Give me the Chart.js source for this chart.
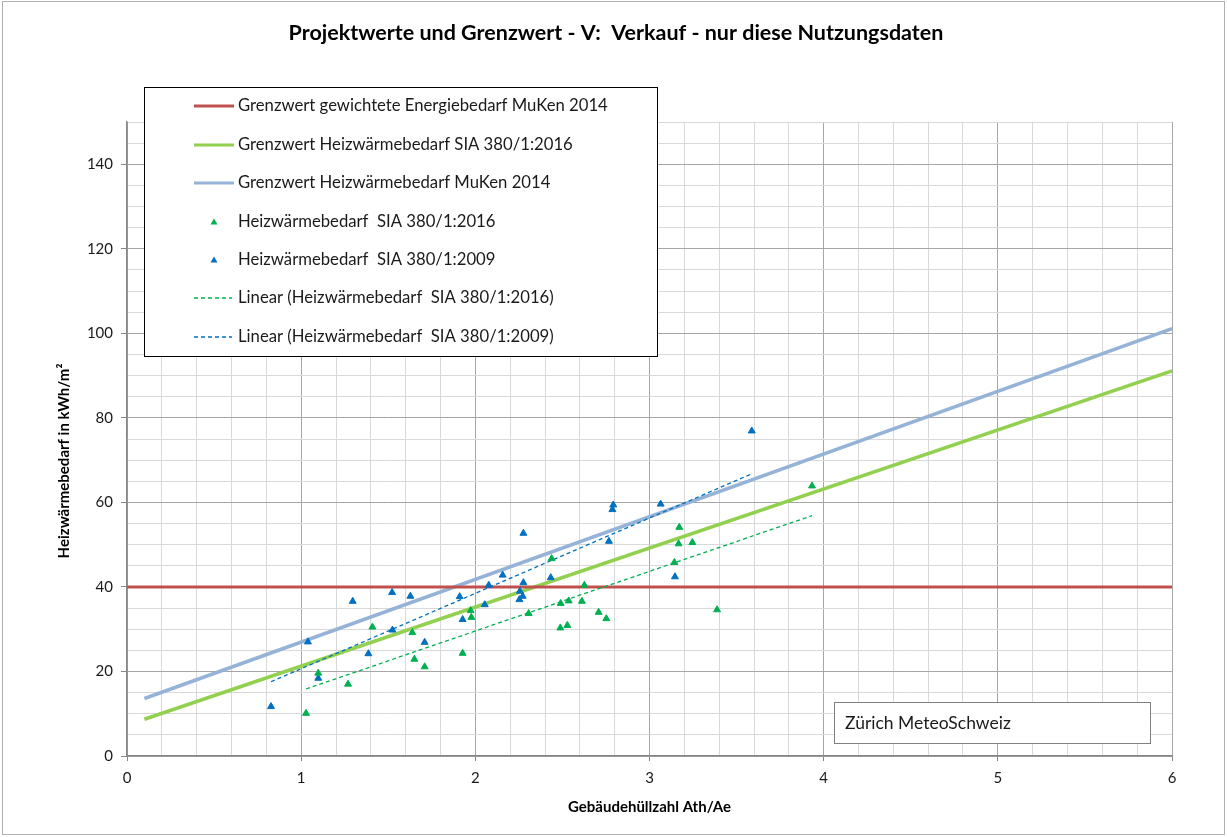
<!DOCTYPE html>
<html><head><meta charset="utf-8">
<script src="https://cdn.jsdelivr.net/npm/chart.js@4"></script>
<style>html,body{margin:0;padding:0;background:#fff;} canvas{display:block;}</style>
</head><body>
<canvas id="c" width="1227" height="837"></canvas>
<script>
// ---- Data ----
const title = 'Projektwerte und Grenzwert - V:  Verkauf - nur diese Nutzungsdaten';
const xTitle = 'Gebäudehüllzahl Ath/Ae';
const yTitle = 'Heizwärmebedarf in kWh/m²';
const infoText = 'Zürich MeteoSchweiz';

const x2016 = [1.028,1.098,1.269,1.409,1.638,1.650,1.709,2.438,2.626,2.490,2.536,2.612,1.973,1.977,2.306,2.708,2.752,2.488,2.528,1.927,3.933,3.171,3.167,3.246,3.143,3.388];
const y2016 = [10.1,19.6,17.0,30.5,29.2,22.9,21.1,46.7,40.4,36.1,36.7,36.6,34.4,32.8,33.7,34.0,32.5,30.3,30.9,24.3,63.9,54.1,50.2,50.5,45.8,34.6];

const x2009 = [0.827,1.039,1.098,1.296,1.522,1.524,1.386,1.627,1.709,1.910,2.276,2.767,2.157,2.077,2.276,2.433,2.256,2.272,2.253,2.054,1.927,3.587,2.792,2.787,3.064,3.146];
const y2009 = [11.7,27.0,18.4,36.6,38.7,29.8,24.2,37.8,26.9,37.7,52.7,50.8,42.8,40.4,41.0,42.2,39.0,37.8,37.0,35.8,32.3,76.9,59.4,58.3,59.6,42.4];

const limitEnergyX = [0, 6];
const limitEnergyY = [40, 40];
const limitSia2016X = [0.1, 6];
const limitSia2016Y = [8.7, 91.1];
const limitMuKenX = [0.1, 6];
const limitMuKenY = [13.6, 101.1];

const legendLabels = [
  'Grenzwert gewichtete Energiebedarf MuKen 2014',
  'Grenzwert Heizwärmebedarf SIA 380/1:2016',
  'Grenzwert Heizwärmebedarf MuKen 2014',
  'Heizwärmebedarf  SIA 380/1:2016',
  'Heizwärmebedarf  SIA 380/1:2009',
  'Linear (Heizwärmebedarf  SIA 380/1:2016)',
  'Linear (Heizwärmebedarf  SIA 380/1:2009)'
];

// ---- helpers ----
const pts = (xs, ys) => xs.map((x, i) => ({x, y: ys[i]}));
function trend(xs, ys) {
  const n = xs.length;
  const mx = xs.reduce((a,b)=>a+b,0)/n, my = ys.reduce((a,b)=>a+b,0)/n;
  let sxy = 0, sxx = 0;
  for (let i=0;i<n;i++){ sxy += (xs[i]-mx)*(ys[i]-my); sxx += (xs[i]-mx)**2; }
  const b = sxy/sxx, a = my - b*mx;
  const lo = Math.min(...xs), hi = Math.max(...xs);
  return [{x: lo, y: a + b*lo}, {x: hi, y: a + b*hi}];
}

const C_RED = '#c0504d', C_LGREEN = '#92d050', C_LBLUE = '#95b3d7';
const C_GREEN = '#00b050', C_BLUE = '#0070c0';
const FONT = 'Lato, "Liberation Sans", sans-serif';

const datasets = [
  {label: legendLabels[0], data: pts(limitEnergyX, limitEnergyY), showLine: true, borderColor: C_RED, borderWidth: 3, pointRadius: 0, order: 3},
  {label: legendLabels[1], data: pts(limitSia2016X, limitSia2016Y), showLine: true, borderColor: C_LGREEN, borderWidth: 3.5, pointRadius: 0, order: 3},
  {label: legendLabels[2], data: pts(limitMuKenX, limitMuKenY), showLine: true, borderColor: C_LBLUE, borderWidth: 3.5, pointRadius: 0, order: 3},
  {label: legendLabels[3], data: pts(x2016, y2016), showLine: false, pointStyle: 'triangle', pointRadius: 4, pointBackgroundColor: C_GREEN, pointBorderColor: C_GREEN, pointBorderWidth: 1, order: 1},
  {label: legendLabels[4], data: pts(x2009, y2009), showLine: false, pointStyle: 'triangle', pointRadius: 4, pointBackgroundColor: C_BLUE, pointBorderColor: C_BLUE, pointBorderWidth: 1, order: 1},
  {label: legendLabels[5], data: trend(x2016, y2016), showLine: true, borderColor: C_GREEN, borderWidth: 1.3, borderDash: [4,3], pointRadius: 0, order: 2},
  {label: legendLabels[6], data: trend(x2009, y2009), showLine: true, borderColor: C_BLUE, borderWidth: 1.3, borderDash: [4,3], pointRadius: 0, order: 2}
];

const isInt = v => Math.abs(v - Math.round(v)) < 1e-6;

const decor = {
  id: 'decor',
  afterDatasetsDraw(chart) {
    const ctx = chart.ctx;
    ctx.save();
    // legend box
    ctx.fillStyle = '#fff';
    ctx.fillRect(144.5, 87.5, 513, 269);
    ctx.strokeStyle = '#000'; ctx.lineWidth = 1;
    ctx.strokeRect(144.5, 87.5, 513, 269);
    const rows = [106, 145, 183, 222, 260, 298, 337];
    const styles = [
      {t:'line', c:C_RED, w:3}, {t:'line', c:C_LGREEN, w:3}, {t:'line', c:C_LBLUE, w:3},
      {t:'tri', c:C_GREEN}, {t:'tri', c:C_BLUE},
      {t:'dash', c:C_GREEN}, {t:'dash', c:C_BLUE}
    ];
    rows.forEach((y, i) => {
      const s = styles[i];
      ctx.setLineDash([]);
      if (s.t === 'line') {
        ctx.strokeStyle = s.c; ctx.lineWidth = s.w;
        ctx.beginPath(); ctx.moveTo(194, y); ctx.lineTo(234, y); ctx.stroke();
      } else if (s.t === 'dash') {
        ctx.strokeStyle = s.c; ctx.lineWidth = 1.3; ctx.setLineDash([4,3]);
        ctx.beginPath(); ctx.moveTo(194, y); ctx.lineTo(232, y); ctx.stroke();
        ctx.setLineDash([]);
      } else {
        ctx.fillStyle = s.c;
        ctx.beginPath(); ctx.moveTo(214, y-3.5); ctx.lineTo(217.5, y+2.5); ctx.lineTo(210.5, y+2.5); ctx.closePath(); ctx.fill();
      }
      ctx.fillStyle = '#1a1a1a';
      ctx.font = '16.7px ' + FONT;
      ctx.textAlign = 'left'; ctx.textBaseline = 'middle';
      ctx.fillText(legendLabels[i], 238, y);
    });
    // info box
    ctx.fillStyle = '#fff';
    ctx.fillRect(834.5, 702.5, 316, 41);
    ctx.strokeStyle = '#808080'; ctx.lineWidth = 1;
    ctx.strokeRect(834.5, 702.5, 316, 41);
    ctx.fillStyle = '#1a1a1a';
    ctx.font = '17.5px ' + FONT;
    ctx.textAlign = 'left'; ctx.textBaseline = 'middle';
    ctx.fillText(infoText, 845, 723);
    ctx.restore();
  },
  afterDraw(chart) {
    const ctx = chart.ctx;
    ctx.save();
    ctx.fillStyle = '#000';
    ctx.font = 'bold 21.5px ' + FONT;
    ctx.textAlign = 'center'; ctx.textBaseline = 'middle';
    ctx.fillText(title, 616, 33);
    ctx.translate(64, 461);
    ctx.rotate(-Math.PI/2);
    ctx.font = 'bold 15px ' + FONT;
    ctx.fillText(yTitle, 0, 0);
    ctx.restore();
    ctx.save();
    ctx.strokeStyle = '#b0b0b0'; ctx.lineWidth = 1;
    ctx.strokeRect(2.5, 1.5, 1222, 833);
    ctx.restore();
  }
};

new Chart(document.getElementById('c'), {
  type: 'scatter',
  data: {datasets},
  options: {
    responsive: false,
    animation: false,
    layout: {padding: {top: 122, right: 55, left: 0, bottom: 0}},
    plugins: {legend: {display: false}, tooltip: {enabled: false}, title: {display: false}},
    scales: {
      x: {
        type: 'linear', min: 0, max: 6,
        afterFit(s) { s.height = 81; },
        ticks: {stepSize: 0.2, autoSkip: false, maxRotation: 0, padding: 8, color: '#1a1a1a',
          font: {family: FONT, size: 15},
          callback: v => isInt(v) ? String(Math.round(v)) : ''},
        grid: {color: c => (c.tick && isInt(c.tick.value)) ? '#a6a6a6' : '#d9d9d9',
          tickColor: c => (c.tick && isInt(c.tick.value)) ? '#868686' : 'rgba(0,0,0,0)',
          tickLength: 5, lineWidth: 1},
        border: {color: '#868686', width: 1.5},
        title: {display: true, text: xTitle, color: '#000', font: {family: FONT, size: 15, weight: 'bold'}, padding: {top: 0, bottom: 21}}
      },
      y: {
        type: 'linear', min: 0, max: 150,
        afterFit(s) { s.width = 127; },
        ticks: {stepSize: 5, autoSkip: false, padding: 8, color: '#1a1a1a',
          font: {family: FONT, size: 15},
          callback: v => (v % 20 === 0) ? String(v) : ''},
        grid: {color: c => (c.tick && c.tick.value % 20 === 0) ? '#a6a6a6' : '#d9d9d9',
          tickColor: c => (c.tick && c.tick.value % 20 === 0) ? '#868686' : 'rgba(0,0,0,0)',
          tickLength: 6, lineWidth: 1},
        border: {color: '#868686', width: 1.5}
      }
    }
  },
  plugins: [decor]
});
</script>
</body></html>
